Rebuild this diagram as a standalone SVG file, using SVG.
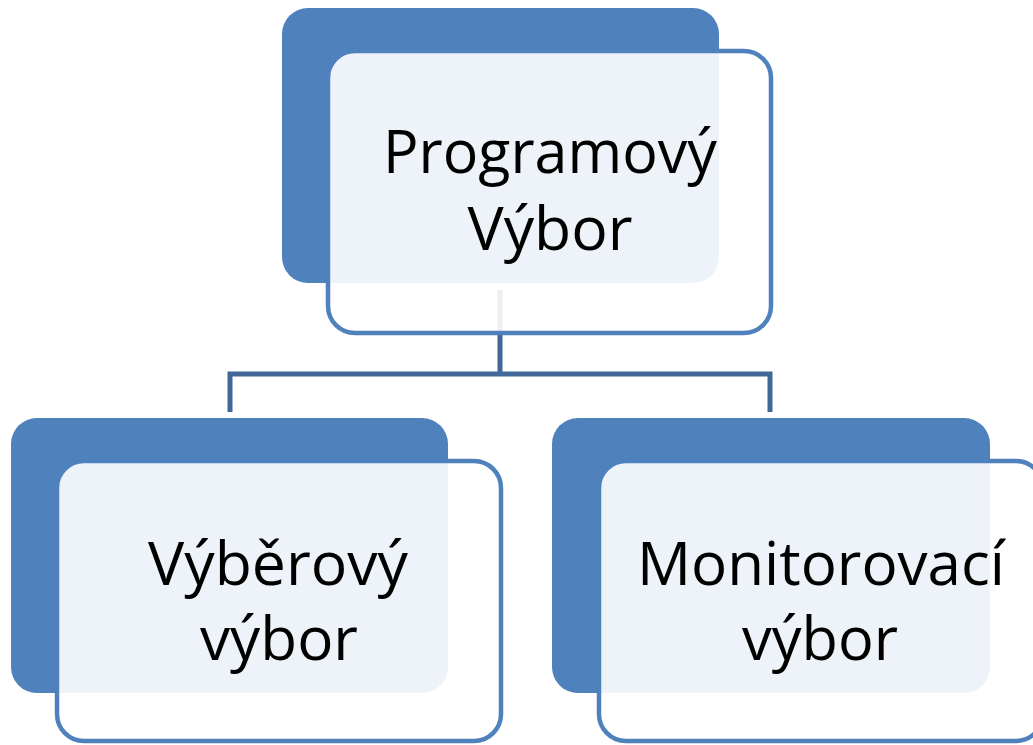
<svg xmlns="http://www.w3.org/2000/svg" width="1033" height="745" viewBox="0 0 1033 745">
<style>
.back{fill:#4F81BD;}
.front{fill:#FFFFFF;fill-opacity:0.9;stroke:#4F81BD;stroke-width:4.5;}
.lbl{font-family:"Open Sans","Noto Sans","DejaVu Sans",sans-serif;font-size:60px;fill:#000000;text-anchor:middle;}
.conn{fill:none;stroke:#416899;stroke-width:5;}
</style>
<rect width="1033" height="745" fill="#FFFFFF"/>
<g id="connectors">
<path class="conn" d="M500,290 V374 M230,412 V374 H770 V412"/>
</g>
<g id="node-programovy">
<rect class="back" x="282" y="8" width="437" height="275" rx="26"/>
<rect class="front" x="328" y="51" width="443" height="282" rx="27"/>
<text class="lbl" x="550" y="173" textLength="334" lengthAdjust="spacingAndGlyphs">Programový</text>
<text class="lbl" x="550" y="250" textLength="165" lengthAdjust="spacingAndGlyphs">Výbor</text>
</g>
<g id="node-vyberovy">
<rect class="back" x="11" y="418" width="437" height="275" rx="26"/>
<rect class="front" x="57" y="461" width="444" height="280" rx="27"/>
<text class="lbl" x="278" y="585" textLength="260" lengthAdjust="spacingAndGlyphs">Výběrový</text>
<text class="lbl" x="279" y="660" textLength="158" lengthAdjust="spacingAndGlyphs">výbor</text>
</g>
<g id="node-monitorovaci">
<rect class="back" x="552" y="418" width="438" height="275" rx="26"/>
<rect class="front" x="599" y="461" width="444" height="280" rx="27"/>
<text class="lbl" x="821" y="585" textLength="368" lengthAdjust="spacingAndGlyphs">Monitorovací</text>
<text class="lbl" x="820" y="660" textLength="156" lengthAdjust="spacingAndGlyphs">výbor</text>
</g>
</svg>
